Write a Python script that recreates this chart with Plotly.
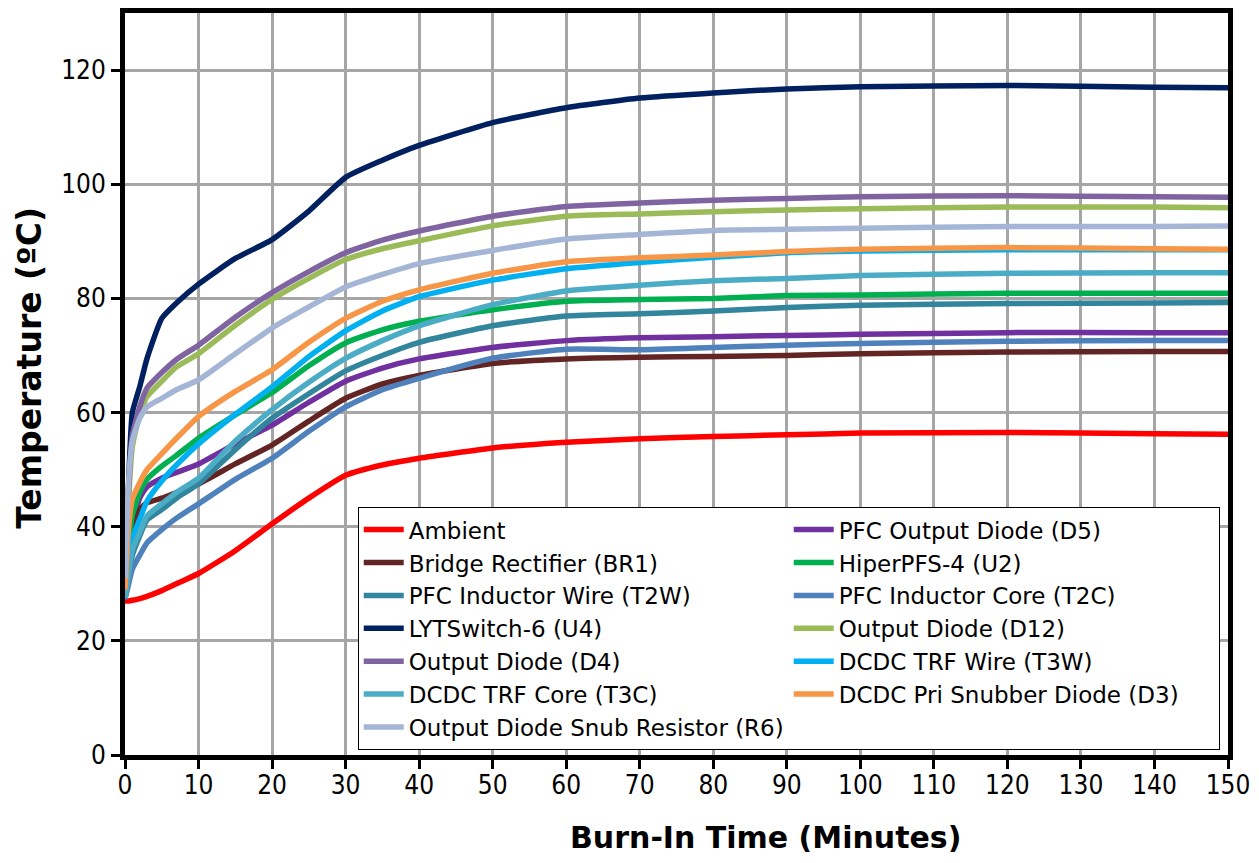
import plotly.graph_objects as go

t = [0, 0.5, 1, 2, 3, 5, 7, 10, 15, 20, 25, 30, 35, 40, 50, 60, 70, 80, 90, 100, 120, 140, 150]

ambient = [27, 27, 27.1, 27.4, 27.8, 28.8, 30, 31.8, 35.8, 40.5, 45, 49, 50.8, 52, 53.8, 54.8, 55.4, 55.8, 56.1, 56.4, 56.5, 56.3, 56.2]
br1 = [27.5, 34, 39, 43, 44.2, 45, 46, 47.5, 51, 54.3, 58.5, 62.5, 65, 66.5, 68.6, 69.4, 69.7, 69.8, 70, 70.3, 70.6, 70.7, 70.7]
t2w = [27.5, 31.5, 35, 38.4, 41.2, 43, 45, 47.5, 53.5, 59, 63.3, 67.3, 70, 72.3, 75.2, 76.9, 77.3, 77.8, 78.4, 78.8, 79.1, 79.2, 79.3]
u4 = [27.5, 48, 60, 64.5, 69.5, 76.5, 79.2, 82.5, 87, 90.3, 95.3, 101.2, 104.2, 106.8, 110.8, 113.4, 115.1, 116, 116.7, 117.1, 117.3, 117, 116.9]
d4 = [28, 47, 56, 61, 64.3, 67, 69.3, 71.8, 76.7, 81, 84.7, 88, 90.2, 91.8, 94.4, 96.1, 96.7, 97.2, 97.5, 97.8, 98, 97.8, 97.7]
t3c = [27.5, 32, 36, 39, 41.9, 44, 46, 48.5, 55, 60.5, 65.3, 69.5, 72.6, 75.2, 78.9, 81.3, 82.3, 83.1, 83.5, 84, 84.4, 84.5, 84.5]
r6 = [31, 48, 55, 59, 61, 62.5, 64, 65.7, 70.3, 74.8, 78.5, 82, 84.2, 86.1, 88.4, 90.4, 91.2, 91.9, 92.1, 92.3, 92.6, 92.6, 92.7]
d5 = [27.5, 35, 40.2, 45, 47, 48.5, 49.5, 51, 54.5, 57.8, 61.8, 65.5, 67.8, 69.4, 71.4, 72.6, 73.1, 73.3, 73.5, 73.7, 74, 74, 74]
u2 = [27.5, 37, 42, 46, 48.3, 50.6, 52.5, 55.5, 59.6, 63.5, 68.2, 72.2, 74.5, 76, 78, 79.5, 79.8, 80, 80.5, 80.6, 80.9, 80.9, 80.9]
t2c = [27.3, 30, 32.6, 35, 37.2, 39.5, 41.5, 44, 48.3, 52, 56.7, 61, 64, 66, 69.5, 71.1, 71, 71.4, 71.8, 72.1, 72.5, 72.6, 72.6]
d12 = [28, 45, 54, 59.8, 62.8, 65.5, 68, 70.3, 75.3, 79.8, 83.5, 86.8, 88.7, 90.1, 92.7, 94.4, 94.8, 95.2, 95.5, 95.7, 96, 96, 95.9]
t3w = [27.5, 33, 37.9, 41.3, 44.5, 48, 50.8, 54.5, 59.7, 64.5, 69.8, 74.3, 77.8, 80.3, 83.2, 85.2, 86.3, 87.2, 88, 88.3, 88.5, 88.5, 88.5]
d3 = [29, 40, 44.8, 47.7, 50, 52.8, 55.5, 59.3, 63.7, 67.5, 72.3, 76.5, 79.5, 81.5, 84.4, 86.4, 87.1, 87.6, 88.2, 88.6, 88.9, 88.7, 88.6]

# legend order (row-wise, two columns) as in reference
series = [
    ("Ambient", ambient, "#FF0000"),
    ("PFC Output Diode (D5)", d5, "#7030A0"),
    ("Bridge Rectifier (BR1)", br1, "#632523"),
    ("HiperPFS-4 (U2)", u2, "#00B050"),
    ("PFC Inductor Wire (T2W)", t2w, "#31859C"),
    ("PFC Inductor Core (T2C)", t2c, "#4F81BD"),
    ("LYTSwitch-6 (U4)", u4, "#002060"),
    ("Output Diode (D12)", d12, "#9BBB59"),
    ("Output Diode (D4)", d4, "#8064A2"),
    ("DCDC TRF Wire (T3W)", t3w, "#00B0F0"),
    ("DCDC TRF Core (T3C)", t3c, "#4BACC6"),
    ("DCDC Pri Snubber Diode (D3)", d3, "#F79646"),
    ("Output Diode Snub Resistor (R6)", r6, "#A5B5D5"),
]

FONT = "DejaVu Sans Condensed"
FONT2 = "DejaVu Sans"

fig = go.Figure()
for name, vals, col in series:
    fig.add_trace(go.Scatter(x=t, y=vals, mode="lines", name=name,
                             line=dict(color=col, width=5.5, shape="spline", smoothing=0.5)))

fig.update_layout(
    width=1259, height=863,
    margin=dict(l=125, r=31, t=8, b=108),
    plot_bgcolor="white", paper_bgcolor="white",
    font=dict(family=FONT, color="black"),
    showlegend=True,
    legend=dict(
        orientation="h", x=0.211, y=0.334, xanchor="left", yanchor="top",
        bgcolor="white", bordercolor="black", borderwidth=1,
        font=dict(family=FONT2, size=23, color="black"),
        entrywidth=375, itemwidth=40, traceorder="normal",
    ),
    annotations=[
        dict(text="<b>Burn-In Time (Minutes)</b>", xref="paper", yref="paper",
             x=0.581, y=-0.111, xanchor="center", yanchor="middle", showarrow=False,
             font=dict(family=FONT2, size=30, color="black")),
        dict(text="<b>Temperature (ºC)</b>", xref="paper", yref="paper",
             x=-0.086, y=0.522, xanchor="center", yanchor="middle", showarrow=False,
             textangle=-90,
             font=dict(family=FONT2, size=33, color="black")),
    ],
)

fig.update_xaxes(range=[0, 150], dtick=10, tick0=0,
                 showgrid=True, gridcolor="#A6A6A6", gridwidth=3,
                 showline=True, linecolor="black", linewidth=5, mirror=True,
                 ticks="outside", ticklen=9, tickwidth=3, tickcolor="black",
                 ticklabelstandoff=-6,
                 tickfont=dict(family=FONT, size=26, color="black"),
                 zeroline=False)
fig.update_yaxes(range=[0, 130], dtick=20, tick0=0,
                 showgrid=True, gridcolor="#A6A6A6", gridwidth=3,
                 showline=True, linecolor="black", linewidth=5, mirror=True,
                 ticks="outside", ticklen=9, tickwidth=3, tickcolor="black",
                 tickfont=dict(family=FONT, size=26, color="black"),
                 zeroline=False)

fig.write_html("out.html", config={"displayModeBar": False},
               post_script="document.body.style.margin='0';")
